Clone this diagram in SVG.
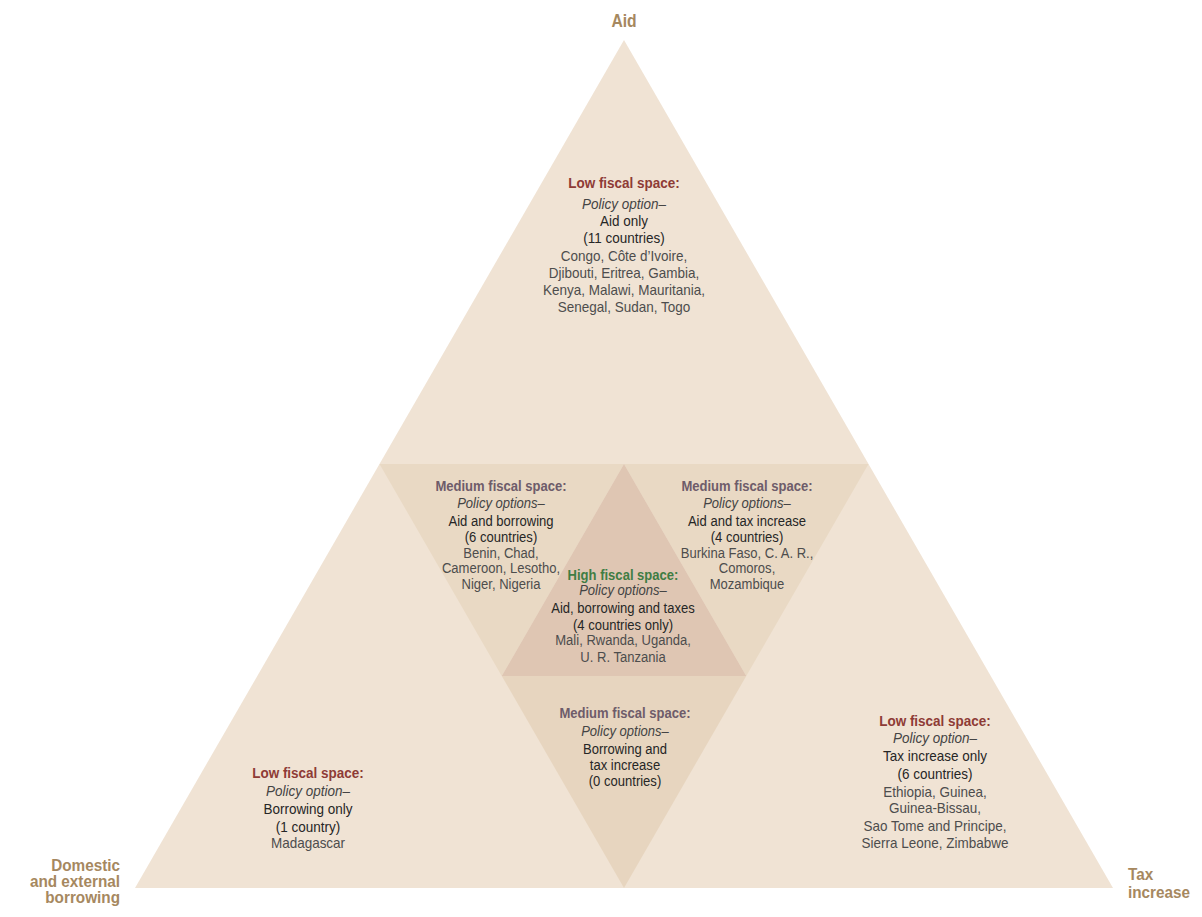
<svg xmlns="http://www.w3.org/2000/svg" width="1202" height="917" viewBox="0 0 1202 917">
<style>
text{font-family:"Liberation Sans",Arial,sans-serif;font-size:15px;text-anchor:middle}
.low{font-weight:bold;fill:#8e3b36}
.med{font-weight:bold;fill:#6e5c6a}
.high{font-weight:bold;fill:#3f7d44}
.pol{font-style:italic;fill:#444}
.opt{fill:#262626}
.cty{fill:#4d4d4d}
.axis{font-weight:bold;font-size:17px;fill:#a6885f}
</style>
<rect width="1202" height="917" fill="#ffffff"/>
<g id="triangle">
<polygon points="624,40 1113,888 135,888" fill="#f0e3d4"/>
</g>
<g id="aid-borrowing">
<polygon points="379.5,464 624,464 501.75,676" fill="#e9d9c4"/>
<g transform="translate(501 0) scale(0.87 1)">
<text x="0" y="491" class="med">Medium fiscal space:</text>
<text x="0" y="508" class="pol">Policy options–</text>
<text x="0" y="526" class="opt">Aid and borrowing</text>
<text x="0" y="542" class="opt">(6 countries)</text>
<text x="0" y="558" class="cty">Benin, Chad,</text>
<text x="0" y="573" class="cty">Cameroon, Lesotho,</text>
<text x="0" y="589" class="cty">Niger, Nigeria</text>
</g>
</g>
<g id="aid-tax">
<polygon points="624,464 868.5,464 746.25,676" fill="#e9d9c4"/>
<g transform="translate(747 0) scale(0.87 1)">
<text x="0" y="491" class="med">Medium fiscal space:</text>
<text x="0" y="508" class="pol">Policy options–</text>
<text x="0" y="526" class="opt">Aid and tax increase</text>
<text x="0" y="542" class="opt">(4 countries)</text>
<text x="0" y="558" class="cty">Burkina Faso, C. A. R.,</text>
<text x="0" y="573" class="cty">Comoros,</text>
<text x="0" y="589" class="cty">Mozambique</text>
</g>
</g>
<g id="borrowing-tax">
<polygon points="501.75,676 746.25,676 624,888" fill="#e7d5bf"/>
<g transform="translate(625 0) scale(0.87 1)">
<text x="0" y="718" class="med">Medium fiscal space:</text>
<text x="0" y="736" class="pol">Policy options–</text>
<text x="0" y="754" class="opt">Borrowing and</text>
<text x="0" y="770" class="opt">tax increase</text>
<text x="0" y="786" class="opt">(0 countries)</text>
</g>
</g>
<g id="high">
<polygon points="624,464 746.25,676 501.75,676" fill="#dfc6b3"/>
<g transform="translate(623 0) scale(0.87 1)">
<text x="0" y="580" class="high">High fiscal space:</text>
<text x="0" y="595" class="pol">Policy options–</text>
<text x="0" y="613" class="opt">Aid, borrowing and taxes</text>
<text x="0" y="630" class="opt">(4 countries only)</text>
<text x="0" y="645" class="cty">Mali, Rwanda, Uganda,</text>
<text x="0" y="662" class="cty">U. R. Tanzania</text>
</g>
</g>
<g id="aid-only">
<g transform="translate(624 0) scale(0.9 1)">
<text x="0" y="188" class="low">Low fiscal space:</text>
<text x="0" y="209" class="pol">Policy option–</text>
<text x="0" y="226" class="opt">Aid only</text>
<text x="0" y="243" class="opt">(11 countries)</text>
<text x="0" y="261" class="cty">Congo, Côte d’Ivoire,</text>
<text x="0" y="278" class="cty">Djibouti, Eritrea, Gambia,</text>
<text x="0" y="295" class="cty">Kenya, Malawi, Mauritania,</text>
<text x="0" y="312" class="cty">Senegal, Sudan, Togo</text>
</g>
</g>
<g id="borrowing-only">
<g transform="translate(308 0) scale(0.9 1)">
<text x="0" y="778" class="low">Low fiscal space:</text>
<text x="0" y="796" class="pol">Policy option–</text>
<text x="0" y="814" class="opt">Borrowing only</text>
<text x="0" y="832" class="opt">(1 country)</text>
<text x="0" y="848" class="cty">Madagascar</text>
</g>
</g>
<g id="tax-only">
<g transform="translate(935 0) scale(0.9 1)">
<text x="0" y="726" class="low">Low fiscal space:</text>
<text x="0" y="743" class="pol">Policy option–</text>
<text x="0" y="761" class="opt">Tax increase only</text>
<text x="0" y="779" class="opt">(6 countries)</text>
<text x="0" y="797" class="cty">Ethiopia, Guinea,</text>
<text x="0" y="813" class="cty">Guinea-Bissau,</text>
<text x="0" y="831" class="cty">Sao Tome and Principe,</text>
<text x="0" y="848" class="cty">Sierra Leone, Zimbabwe</text>
</g>
</g>
<g id="axis-labels">
<g transform="translate(624 0) scale(0.87 1)">
<text x="0" y="27" class="axis" style="font-size:18px">Aid</text>
</g>
<g transform="translate(120 0) scale(0.9 1)">
<text x="0" y="871" class="axis" style="text-anchor:end">Domestic</text>
<text x="0" y="887" class="axis" style="text-anchor:end">and external</text>
<text x="0" y="903" class="axis" style="text-anchor:end">borrowing</text>
</g>
<g transform="translate(1128 0) scale(0.9 1)">
<text x="0" y="880" class="axis" style="text-anchor:start">Tax</text>
<text x="0" y="898" class="axis" style="text-anchor:start">increase</text>
</g>
</g>
</svg>
